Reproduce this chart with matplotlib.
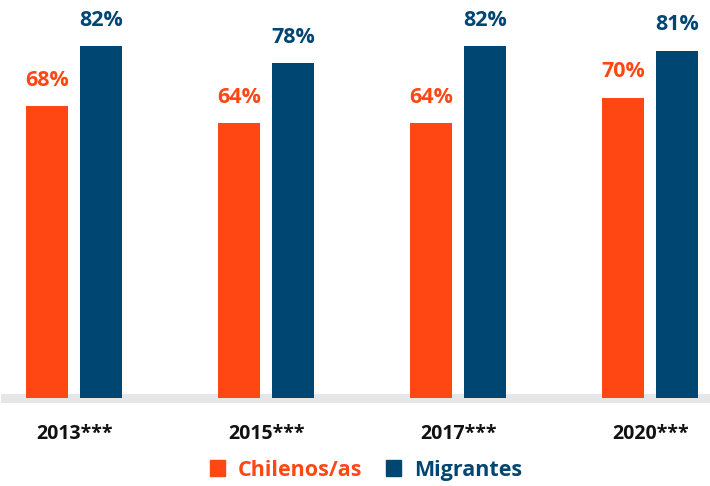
import matplotlib.pyplot as plt
from matplotlib.patches import Patch
import numpy as np

years = ['2013***', '2015***', '2017***', '2020***']
chilenos = [68, 64, 64, 70]
migrantes = [82, 78, 82, 81]

orange = '#ff4713'
blue = '#004672'

plt.rcParams['font.family'] = ['Open Sans', 'DejaVu Sans']

fig = plt.figure(figsize=(7.1, 4.86), dpi=100)
ax = fig.add_axes([5 / 710, 88 / 486, 705 / 710, 398 / 486])

x = np.arange(len(years))
w = 0.22
off = 27 / 192
b1 = ax.bar(x - off, chilenos, w, color=orange, zorder=3)
b2 = ax.bar(x + off, migrantes, w, color=blue, zorder=3)

for rect, v in zip(b1, chilenos):
    ax.annotate(f'{v}%', (rect.get_x() + rect.get_width() / 2, v), xytext=(0, 11),
                textcoords='offset points', ha='center', va='bottom',
                fontsize=15.5, fontweight='bold', color=orange)
for rect, v in zip(b2, migrantes):
    ax.annotate(f'{v}%', (rect.get_x() + rect.get_width() / 2, v), xytext=(0, 11),
                textcoords='offset points', ha='center', va='bottom',
                fontsize=15.5, fontweight='bold', color=blue)

ax.axhline(0, color='#e6e6e6', lw=6.5, zorder=2, clip_on=False)

ax.set_xlim(-0.36, -0.36 + 705 / 192)
ax.set_ylim(0, 398 / 4.29)
ax.set_xticks(x)
ax.set_xticklabels(years, fontsize=14, fontweight='bold', color='#111111')
ax.tick_params(axis='x', length=0, pad=19)
ax.set_yticks([])
for s in ax.spines.values():
    s.set_visible(False)

handles = [Patch(color=orange, label='Chilenos/as'), Patch(color=blue, label='Migrantes')]
leg = fig.legend(handles=handles, loc='center', bbox_to_anchor=(0.516, 16 / 486), ncol=2,
                 frameon=False, handlelength=0.7, handleheight=0.7, handletextpad=0.6,
                 columnspacing=1.1, prop={'size': 15.5, 'weight': 'bold'})
leg.get_texts()[0].set_color(orange)
leg.get_texts()[1].set_color(blue)

fig.savefig('out.png', dpi=100)
